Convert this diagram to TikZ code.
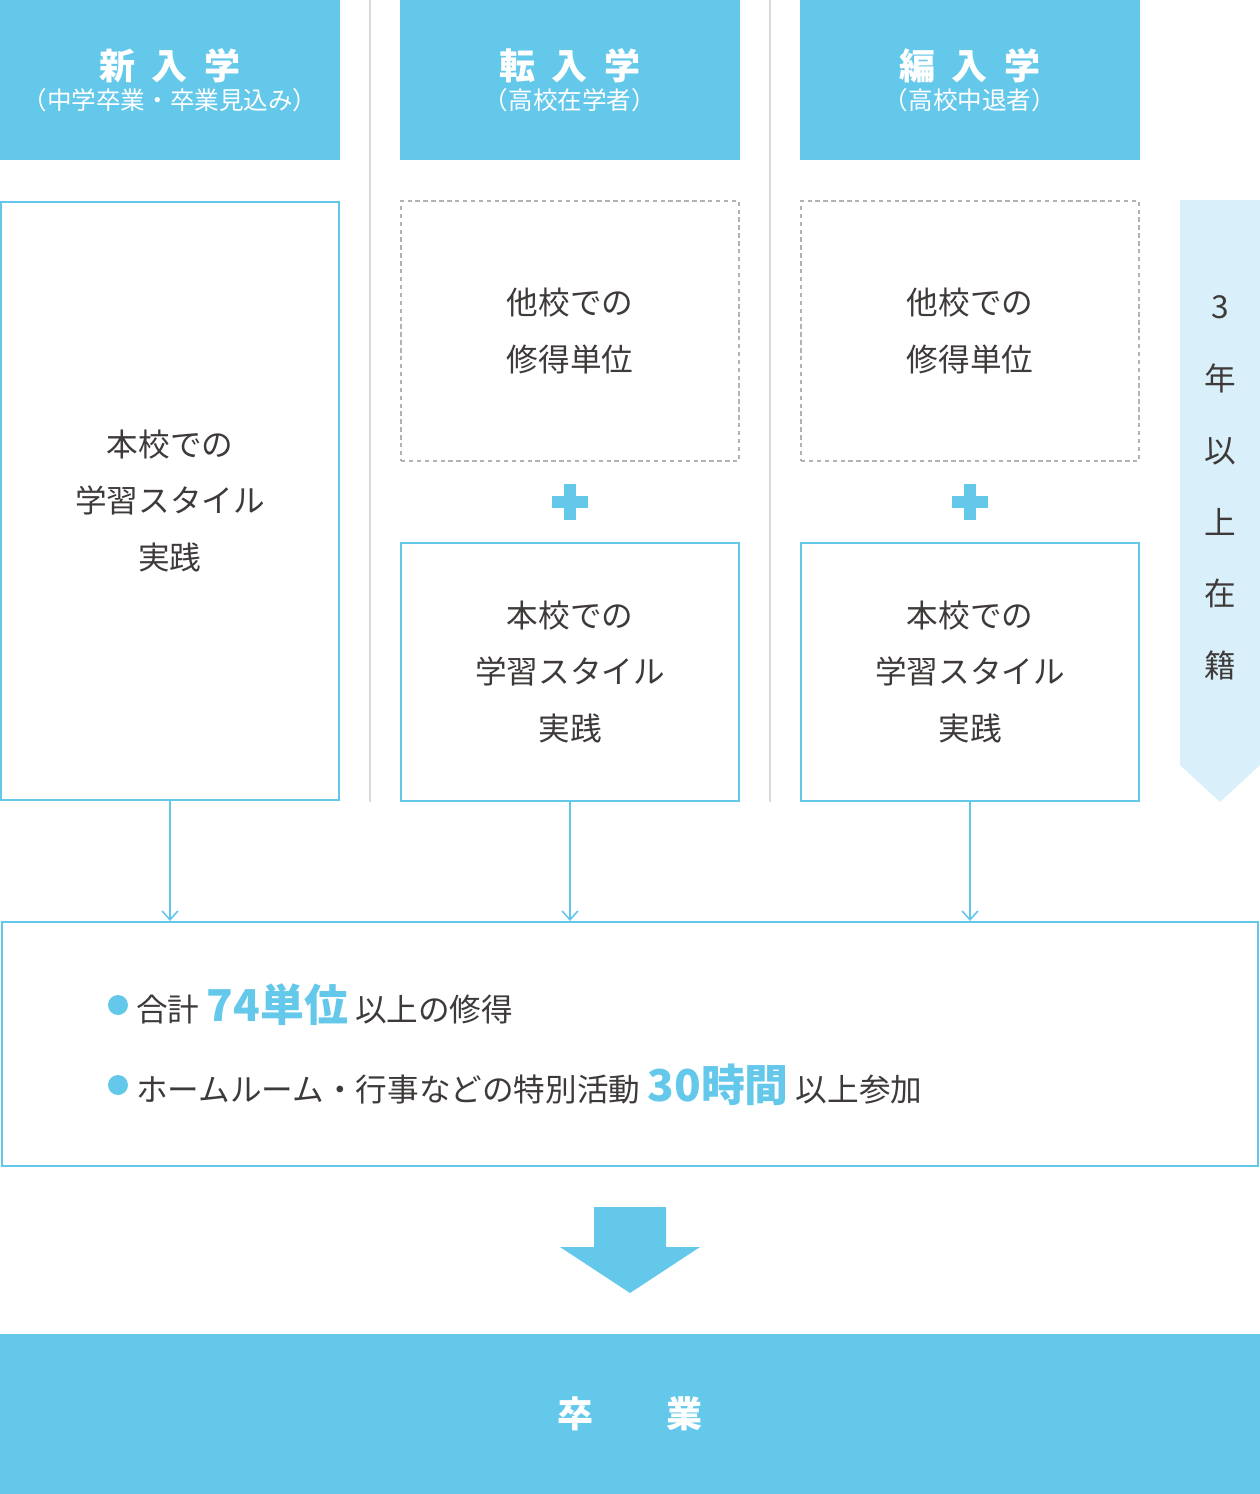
\documentclass[tikz,border=0pt]{standalone}
\usepackage{fontspec}
\setmainfont{Noto Sans CJK JP}
\usepackage{tikz}
\usetikzlibrary{arrows.meta}
\definecolor{skyblue}{HTML}{64C8EA}
\definecolor{paleblue}{HTML}{D9F0FA}
\definecolor{txtgray}{HTML}{3E3A39}
\tikzset{
  headbox/.style={fill=skyblue, draw=none, minimum width=340*0.02cm, minimum height=160*0.02cm, text=white, align=center, inner sep=0pt},
  stepbox/.style={draw=skyblue, line width=1.2pt, minimum width=338*0.02cm, text=txtgray, align=center, font=\fontsize{18}{32}\selectfont},
  otherbox/.style={draw=gray!60, dash pattern=on 2.5pt off 2pt, line width=0.9pt, minimum width=338*0.02cm, minimum height=260*0.02cm, text=txtgray, align=center, font=\fontsize{18}{32}\selectfont},
  flowarrow/.style={draw=skyblue, line width=0.9pt, -{Straight Barb[length=5pt,width=9pt]}},
  bullet/.style={circle, fill=skyblue, minimum size=20*0.02cm, inner sep=0pt},
  plussign/.style={fill=skyblue, draw=none}
}
\newcommand{\hili}[1]{{\bfseries\color{skyblue}\fontsize{25}{25}\selectfont #1}}
\newcommand{\plusat}[1]{%
  \fill[plussign, shift={#1}] (-6,-18) rectangle (6,18);
  \fill[plussign, shift={#1}] (-18,-6) rectangle (18,6);}
\begin{document}
\begin{tikzpicture}[x=0.02cm, y=-0.02cm]
\useasboundingbox (0,0) rectangle (1260,1494);
			%   %   %   %   %   %   %   %   %   %   %
			%   Column separators
				\draw[gray!30, line width=1pt] (370,0) -- (370,802);
				\draw[gray!30, line width=1pt] (770,0) -- (770,802);
			%   %   %   %   %   %   %   %   %   %   %
			%   Headers
				\node[headbox] (newhead) at (170,80) {{\bfseries\fontsize{20.5}{24}\selectfont 新\ \ 入\ \ 学}\\[2pt]{\fontsize{14}{18}\selectfont （中学卒業・卒業見込み）}};
				\node[headbox] (transhead) at (570,80) {{\bfseries\fontsize{20.5}{24}\selectfont 転\ \ 入\ \ 学}\\[2pt]{\fontsize{14}{18}\selectfont （高校在学者）}};
				\node[headbox] (rehead) at (970,80) {{\bfseries\fontsize{20.5}{24}\selectfont 編\ \ 入\ \ 学}\\[2pt]{\fontsize{14}{18}\selectfont （高校中退者）}};
			%   %   %   %   %   %   %   %   %   %   %
			%   New entry column
				\node[stepbox, minimum height=598*0.02cm] (newstyle) at (170,501) {本校での\\学習スタイル\\実践};
			%   %   %   %   %   %   %   %   %   %   %
			%   Transfer column
				\node[otherbox] (transother) at (570,331) {他校での\\修得単位};
				\plusat{(570,502)}
				\node[stepbox, minimum height=258*0.02cm] (transstyle) at (570,672) {本校での\\学習スタイル\\実践};
			%   %   %   %   %   %   %   %   %   %   %
			%   Re-entry column
				\node[otherbox] (reother) at (970,331) {他校での\\修得単位};
				\plusat{(970,502)}
				\node[stepbox, minimum height=258*0.02cm] (restyle) at (970,672) {本校での\\学習スタイル\\実践};
			%   %   %   %   %   %   %   %   %   %   %
			%   Enrolment period
				\fill[paleblue] (1180,200) -- (1260,200) -- (1260,765) -- (1220,802) -- (1180,765) -- cycle;
				\node[text=txtgray, align=center, font=\fontsize{18}{40.8}\selectfont] (period) at (1220,488) {3\\年\\以\\上\\在\\籍};
			%   %   %   %   %   %   %   %   %   %   %
			%   Requirements
				\node[stepbox, minimum width=1256*0.02cm, minimum height=244*0.02cm] (require) at (630,1044) {};
				\node[bullet] (bulleta) at (118,1005) {};
				\node[anchor=west, text=txtgray, font=\fontsize{18}{18}\selectfont, inner sep=0pt] (linea) at (136,1005) {合計 \hili{74単位} 以上の修得};
				\node[bullet] (bulletb) at (118,1085) {};
				\node[anchor=west, text=txtgray, font=\fontsize{18}{18}\selectfont, inner sep=0pt] (lineb) at (136,1085) {ホームルーム・行事などの特別活動 \hili{30時間} 以上参加};
			%   %   %   %   %   %   %   %   %   %   %
			%   Columns -> Requirements
				\draw[flowarrow] (newstyle.south) -- (newstyle.south |- require.north);
				\draw[flowarrow] (transstyle.south) -- (transstyle.south |- require.north);
				\draw[flowarrow] (restyle.south) -- (restyle.south |- require.north);
			%   %   %   %   %   %   %   %   %   %   %
			%   Graduation
				\fill[skyblue] (594,1207) -- (666,1207) -- (666,1247) -- (700,1247) -- (630,1293) -- (560,1247) -- (594,1247) -- cycle;
				\node[fill=skyblue, minimum width=1260*0.02cm, minimum height=160*0.02cm, text=white, font=\bfseries\fontsize{20.5}{24}\selectfont] (grad) at (630,1414) {卒\qquad 業};
		\end{tikzpicture}
\end{document}
